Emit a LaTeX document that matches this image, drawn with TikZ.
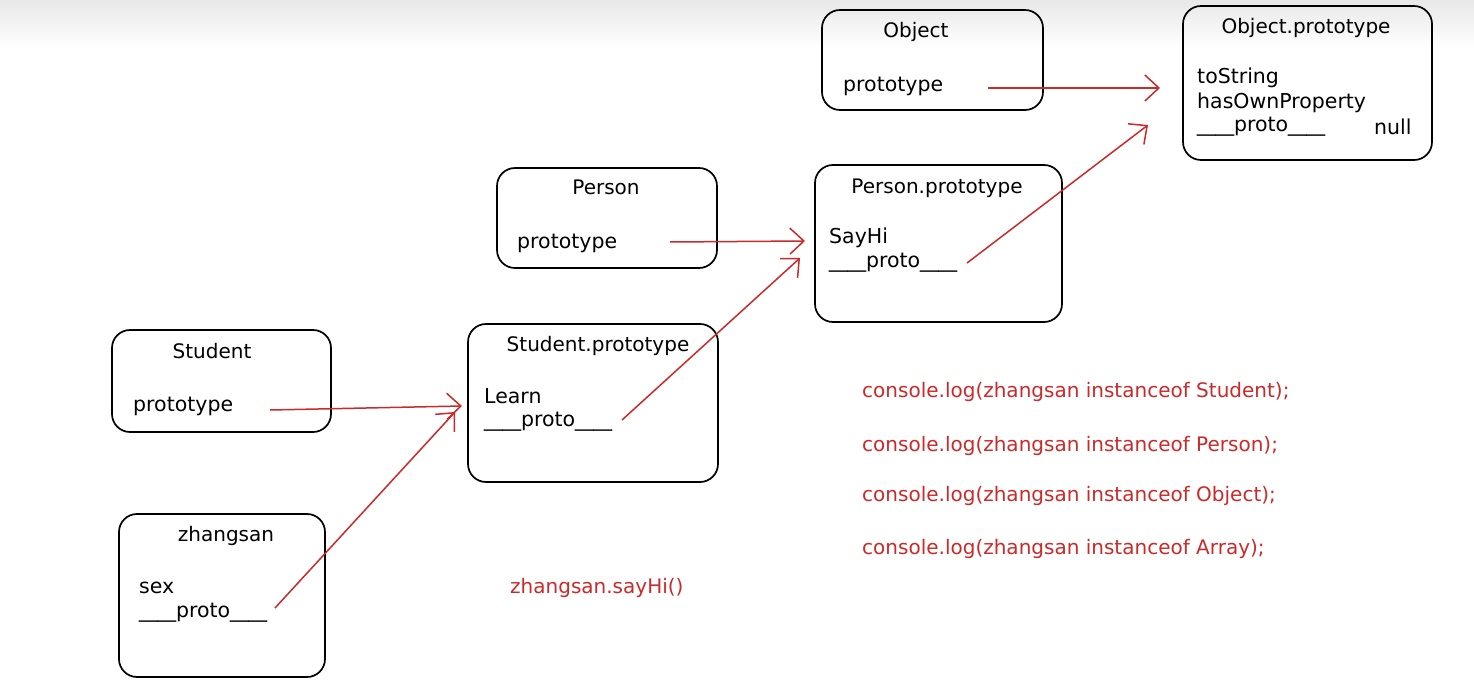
\documentclass[tikz,border=0pt]{standalone}
\usepackage{fontspec}
\setmainfont{DejaVu Sans}
\usetikzlibrary{arrows.meta}
\definecolor{exred}{HTML}{C92A2A}
\newcommand{\wus}{\scalebox{1.8}[1]{\_}}
\newcommand{\protolbl}{\wus\wus proto\wus\wus}
\tikzset{
  objbox/.style={draw=black, line width=1.7pt, rounded corners=18pt},
  lbl/.style={font=\fontsize{20.5}{24}\selectfont, inner sep=0pt, anchor=west},
  ttl/.style={font=\fontsize{20}{24}\selectfont, inner sep=0pt},
  redtxt/.style={font=\fontsize{20}{24}\selectfont, text=exred, inner sep=0pt, anchor=west},
  link/.style={draw=exred, line width=1.5pt, -{Straight Barb[length=14pt,width=26pt,line width=1.5pt]}}
}
\begin{document}
\begin{tikzpicture}[x=1pt,y=-1pt]
\useasboundingbox (0,0) rectangle (1474,684);
\fill[white] (0,0) rectangle (1474,684);
\shade[top color=black!9, bottom color=white] (0,0) rectangle (1474,48);
% boxes
\draw[objbox] (822,10) rectangle (1043,110);
\node[ttl] (tObj) at (916,32) {Object};
\node[lbl] (pObj) at (843,86) {prototype};

\draw[objbox] (1183,6) rectangle (1432,160);
\node[ttl] (tObjP) at (1306,28) {Object.prototype};
\node[lbl] (ts) at (1197,78) {toString};
\node[lbl] (hop) at (1197,103) {hasOwnProperty};
\node[lbl] (prObjP) at (1197,127) {\protolbl};
\node[lbl] (nul) at (1374,127) {null};

\draw[objbox] (497,168) rectangle (717,268);
\node[ttl] (tPer) at (606,187) {Person};
\node[lbl] (pPer) at (517,243) {prototype};

\draw[objbox] (815,165) rectangle (1062,322);
\node[ttl] (tPerP) at (937,188) {Person.prototype};
\node[lbl] (sh) at (829,238) {SayHi};
\node[lbl] (prPerP) at (829,263) {\protolbl};

\draw[objbox] (112,330) rectangle (331,432);
\node[ttl] (tStu) at (212,351) {Student};
\node[lbl] (pStu) at (133,406) {prototype};

\draw[objbox] (468,324) rectangle (718,482);
\node[ttl] (tStuP) at (598,346) {Student.prototype};
\node[lbl] (lrn) at (484,396) {Learn};
\node[lbl] (prStuP) at (484,422) {\protolbl};

\draw[objbox] (119,514) rectangle (325,677);
\node[ttl] (tZs) at (226,536) {zhangsan};
\node[lbl] (sex) at (139,588) {sex};
\node[lbl] (prZs) at (139,613) {\protolbl};

% red texts
\node[redtxt] (c1) at (862,392) {console.log(zhangsan instanceof Student);};
\node[redtxt] (c2) at (862,446) {console.log(zhangsan instanceof Person);};
\node[redtxt] (c3) at (862,496) {console.log(zhangsan instanceof Object);};
\node[redtxt] (c4) at (862,549) {console.log(zhangsan instanceof Array);};
\node[redtxt] (say) at (510,588) {zhangsan.sayHi()};

% arrow end points
\coordinate (a1s) at (988,88);   \coordinate (a1e) at (1160,88);
\coordinate (a2s) at (967,263);  \coordinate (a2e) at (1148,125);
\coordinate (a3s) at (670,242);  \coordinate (a3e) at (805,241);
\coordinate (a4s) at (622,420);  \coordinate (a4e) at (800,258);
\coordinate (a5s) at (270,410);  \coordinate (a5e) at (462,406);
\coordinate (a6s) at (275,608);  \coordinate (a6e) at (455,412);
\draw[link] (a1s) -- (a1e);
\draw[link] (a2s) -- (a2e);
\draw[link] (a3s) -- (a3e);
\draw[link] (a4s) -- (a4e);
\draw[link] (a5s) -- (a5e);
\draw[link] (a6s) -- (a6e);
\end{tikzpicture}
\end{document}
